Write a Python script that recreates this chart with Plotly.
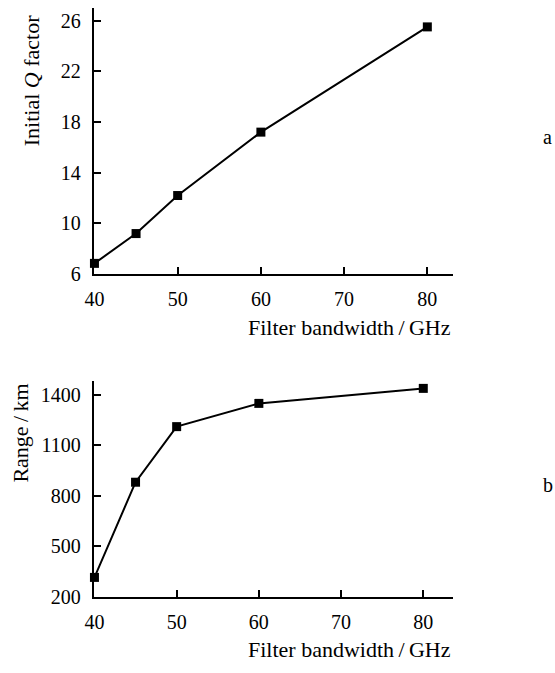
import plotly.graph_objects as go

bandwidth = [40, 45, 50, 60, 80]
q_factor = [6.85, 9.2, 12.2, 17.2, 25.5]
range_km = [315, 880, 1210, 1348, 1437]

x_ticks = [40, 50, 60, 70, 80]
q_ticks = [6, 10, 14, 18, 22, 26]
r_ticks = [200, 500, 800, 1100, 1400]

FONT = "Liberation Serif"
W, H = 555, 673

fig = go.Figure()
line = dict(color="black", width=2)
marker = dict(symbol="square", size=9, color="black")
fig.add_trace(go.Scatter(x=bandwidth, y=q_factor, mode="lines+markers",
                         line=line, marker=marker, xaxis="x", yaxis="y",
                         showlegend=False, cliponaxis=False))
fig.add_trace(go.Scatter(x=bandwidth, y=range_km, mode="lines+markers",
                         line=line, marker=marker, xaxis="x2", yaxis="y2",
                         showlegend=False, cliponaxis=False))

ax_common = dict(showline=True, linecolor="black", linewidth=1.5,
                 ticks="inside", ticklen=7, tickwidth=1.5, tickcolor="black",
                 showgrid=False, zeroline=False,
                 tickfont=dict(family=FONT, size=20, color="black"))

xd = [86 / W, 451 / W]
fig.update_layout(
    width=W, height=H, margin=dict(l=0, r=0, t=0, b=0),
    paper_bgcolor="white", plot_bgcolor="white",
    font=dict(family=FONT, color="black"),
    xaxis=dict(domain=xd, range=[40, 83.07], tickvals=x_ticks, anchor="y",
               ticklabelstandoff=6, **ax_common),
    yaxis=dict(domain=[(H - 278.7) / H, (H - 8) / H], range=[6, 27],
               tickvals=q_ticks, anchor="x", ticklabelstandoff=8, **ax_common),
    xaxis2=dict(domain=xd, range=[40, 83.6], tickvals=x_ticks, anchor="y2",
                ticklabelstandoff=6, **ax_common),
    yaxis2=dict(domain=[(H - 606.7) / H, (H - 387.3) / H], range=[200, 1481],
                tickvals=r_ticks, anchor="x2", ticklabelstandoff=8, **ax_common),
)

tfont = dict(family=FONT, size=22, color="black")
def ann(text, xp, yp, angle=0, font=tfont):
    fig.add_annotation(text=text, x=xp / W, y=1 - yp / H, xref="paper", yref="paper",
                       showarrow=False, textangle=angle, font=font,
                       xanchor="center", yanchor="middle")

ann("Filter bandwidth\u2009/\u2009GHz", 346, 333)
ann("Filter bandwidth\u2009/\u2009GHz", 346, 660)
ann("Initial <i>Q</i> factor", 22, 82, angle=-90)
ann("Range\u2009/\u2009km", 11, 440, angle=-90)
ann("a", 547, 139, font=dict(family=FONT, size=20, color="black"))
ann("b", 548, 493, font=dict(family=FONT, size=20, color="black"))

fig.write_html("out.html")
